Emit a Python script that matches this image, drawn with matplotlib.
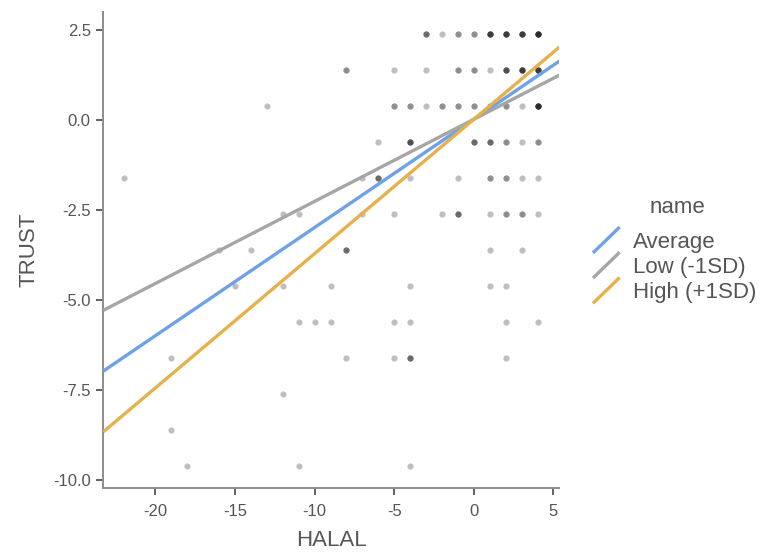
import numpy as np
import matplotlib
matplotlib.use("Agg")
import matplotlib.pyplot as plt
from matplotlib.lines import Line2D
from matplotlib.legend_handler import HandlerBase

plt.rcParams['font.family'] = ['Liberation Sans', 'DejaVu Sans']
plt.rcParams['axes.unicode_minus'] = False

# raw points: HALAL (x), TRUST (y), number of overlapping cases
halal = [-3, -2, -1, 0, 1, 2, 3, 4,
         -8, -5, -3, -1, 0, 1, 2, 3, 4,
         -13, -5, -4, -3, -2, -1, 0, 1, 2, 3, 4,
         -6, -4, 0, 1, 2, 3, 4,
         -22, -7, -6, -4, -1, 1, 2, 3, 4,
         -12, -11, -7, -5, -2, -1, 1, 2, 3, 4,
         -16, -14, -8, 1, 3,
         -15, -12, -9, -4, 1, 2,
         -11, -10, -9, -5, -4, 2, 4,
         -19, -8, -5, -4, 2,
         -12,
         -19,
         -18, -11, -4]
trust = [2.4] * 8 + [1.4] * 9 + [0.4] * 11 + [-0.6] * 7 + [-1.6] * 9 + \
        [-2.6] * 10 + [-3.6] * 5 + [-4.6] * 6 + [-5.6] * 7 + [-6.6] * 5 + \
        [-7.6] + [-8.6] + [-9.6] * 3
counts = [3, 1, 2, 2, 5, 5, 5, 6,
          2, 1, 1, 2, 2, 1, 4, 5, 5,
          1, 2, 2, 1, 2, 2, 2, 2, 2, 1, 6,
          1, 4, 3, 3, 2, 1, 2,
          1, 1, 3, 1, 1, 2, 2, 1, 1,
          1, 1, 1, 1, 1, 3, 1, 2, 2, 1,
          1, 1, 3, 1, 1,
          1, 1, 1, 1, 1, 1,
          1, 1, 1, 1, 1, 1, 1,
          1, 1, 1, 3, 1,
          1,
          1,
          1, 1, 1]

# simple slopes
line_names = ['Average', 'Low (-1SD)', 'High (+1SD)']
intercepts = [0.02, 0.02, 0.02]
slopes = [0.3005, 0.228, 0.373]
line_colors = ['#6fa0ea', '#a6a6a6', '#e8b04a']

x_ticks = [-20, -15, -10, -5, 0, 5]
y_ticks = [-10.0, -7.5, -5.0, -2.5, 0.0, 2.5]


class DiagonalHandler(HandlerBase):
    def create_artists(self, legend, orig_handle, xdescent, ydescent,
                       width, height, fontsize, trans):
        line = Line2D([-xdescent, -xdescent + width],
                      [-ydescent - 0.15 * height, -ydescent + 1.15 * height],
                      color=orig_handle.get_color(), lw=orig_handle.get_linewidth(),
                      solid_capstyle='butt', transform=trans)
        return [line]


fig = plt.figure(figsize=(7.62, 5.55), dpi=100)
ax = fig.add_axes([103.3 / 762, 1 - 487.7 / 555, (559.5 - 103.3) / 762, (487.7 - 12.3) / 555])

xs = np.repeat(halal, counts)
ys = np.repeat(trust, counts)
ax.scatter(xs, ys, s=20, color='black', alpha=0.25, linewidths=0, zorder=2)

xlim = (-23.27, 5.38)
ylim = (-10.21, 2.99)
xx = np.array(xlim)
handles = []
for name, b0, b1, col in zip(line_names, intercepts, slopes, line_colors):
    h, = ax.plot(xx, b0 + b1 * xx, color=col, lw=2.4, label=name,
                 solid_capstyle='butt', zorder=3)
    handles.append(h)

ax.set_xlim(*xlim)
ax.set_ylim(*ylim)
ax.set_xticks(x_ticks)
ax.set_yticks(y_ticks)
ax.set_yticklabels([f'{v:.1f}' for v in y_ticks])

for side in ['top', 'right']:
    ax.spines[side].set_visible(False)
for side in ['left', 'bottom']:
    ax.spines[side].set_color('#8c8c8c')
    ax.spines[side].set_linewidth(1.4)
ax.tick_params(axis='both', colors='#555555', labelsize=12, length=5, width=1.3)
ax.tick_params(axis='x', pad=7)
ax.tick_params(axis='y', pad=4)

ax.set_xlabel('HALAL', fontsize=16, color='#555555', labelpad=8)
ax.set_ylabel('TRUST', fontsize=16, color='#555555', labelpad=10)

# legend title drawn on its own so the gap to the entries matches
fig.text(677 / 762, 1 - 208 / 555, 'name', fontsize=16, color='#555555',
         ha='center', va='center')
leg = fig.legend(handles=handles, labels=line_names,
                 loc='upper left', bbox_to_anchor=(593 / 762, 1 - 230 / 555),
                 frameon=False, fontsize=16,
                 handler_map={Line2D: DiagonalHandler()},
                 handlelength=1.2, handleheight=1.0, handletextpad=0.6,
                 labelspacing=0.12, borderpad=0, borderaxespad=0)
for t in leg.get_texts():
    t.set_color('#555555')

fig.savefig('out.png', dpi=100)
